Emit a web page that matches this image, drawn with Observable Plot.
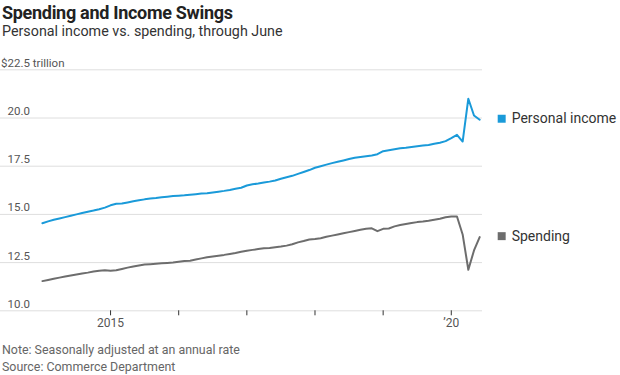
<!DOCTYPE html>
<html><head><meta charset="utf-8">
<script src="https://cdn.jsdelivr.net/npm/d3@7"></script>
<script src="https://cdn.jsdelivr.net/npm/@observablehq/plot@0.6"></script>
<style>
body{margin:0;background:#fff;width:620px;height:375px;overflow:hidden;position:relative;font-family:Roboto,sans-serif;}
.t{position:absolute;left:2px;white-space:nowrap;}
#title{top:2px;font-size:18px;font-weight:700;color:#222;letter-spacing:-0.3px;}
#sub{top:23px;font-size:14.3px;color:#333;}
#note{top:342px;font-size:12.4px;color:#666;}
#src{top:359px;font-size:12.4px;color:#666;}
#chart{position:absolute;left:0;top:50px;}
</style></head>
<body>
<div class="t" id="title">Spending and Income Swings</div>
<div class="t" id="sub">Personal income vs. spending, through June</div>
<div id="chart"></div>
<div class="t" id="note">Note: Seasonally adjusted at an annual rate</div>
<div class="t" id="src">Source: Commerce Department</div>
<script>
const startYear = 2014;
const income = [
14.54,14.64,14.72,14.79,14.86,14.93,15.00,15.07,15.14,15.20,15.27,15.35,
15.47,15.55,15.56,15.62,15.68,15.73,15.78,15.82,15.85,15.89,15.92,15.95,
15.97,15.99,16.02,16.05,16.08,16.10,16.14,16.18,16.22,16.27,16.33,16.38,
16.50,16.56,16.60,16.65,16.70,16.76,16.85,16.93,17.00,17.10,17.20,17.30,
17.42,17.50,17.58,17.66,17.73,17.80,17.87,17.94,17.98,18.02,18.06,18.12,
18.28,18.33,18.38,18.43,18.46,18.50,18.54,18.57,18.60,18.66,18.72,18.80,
18.96,19.13,18.78,21.00,20.13,19.91];
const spending = [
11.54,11.60,11.66,11.72,11.78,11.83,11.88,11.93,11.98,12.04,12.08,12.10,
12.08,12.10,12.17,12.24,12.30,12.35,12.40,12.42,12.44,12.46,12.48,12.50,
12.54,12.58,12.60,12.66,12.72,12.78,12.82,12.86,12.90,12.95,13.00,13.06,
13.12,13.16,13.20,13.24,13.26,13.30,13.33,13.38,13.45,13.55,13.62,13.70,
13.72,13.76,13.84,13.90,13.96,14.02,14.08,14.14,14.20,14.25,14.28,14.13,
14.25,14.27,14.38,14.45,14.50,14.55,14.60,14.63,14.67,14.72,14.77,14.85,
14.89,14.89,13.96,12.13,13.13,13.82];
const seriesNames = ["Personal income", "Spending"];
const seriesColors = ["#1a9ad9", "#6d6d6d"];
const yTicks = [10, 12.5, 15, 17.5, 20, 22.5];
const yTickLabels = ["10.0", "12.5", "15.0", "17.5", "20.0", "22.5 trillion"];
const xTicks = [2015, 2016, 2017, 2018, 2019, 2020];
const xTickLabels = ["2015", "", "", "", "", "\u201920"];

const rows = [];
[income, spending].forEach((arr, s) => arr.forEach((v, i) => rows.push({t: startYear + i / 12, v, s: seriesNames[s]})));
const last = seriesNames.map((n, s) => { const arr = [income, spending][s]; return {t: startYear + (arr.length - 1) / 12, v: arr[arr.length - 1], s: n}; });
const yt = yTicks.map((v, i) => ({v, label: yTickLabels[i]}));

const chart = Plot.plot({
  width: 620, height: 285,
  marginLeft: 0, marginRight: 138, marginTop: 19.3, marginBottom: 24.7,
  x: {type: "linear", domain: [2013.385, 2020.458], axis: null},
  y: {type: "linear", domain: [10, 22.5], axis: null},
  color: {domain: seriesNames, range: seriesColors},
  style: {fontFamily: "Roboto, sans-serif", overflow: "visible"},
  marks: [
    Plot.ruleY(yTicks, {y: d => d, stroke: "#dedede", strokeWidth: 1}),
    Plot.text(yt, {y: "v", text: "label", frameAnchor: "left", dx: 7, dy: -3, lineAnchor: "bottom", textAnchor: "start", fontSize: 11.5, fill: "#555"}),
    Plot.text(yt.filter(d => d.v === 22.5), {y: "v", text: () => "$", frameAnchor: "left", dx: 7, dy: -3, lineAnchor: "bottom", textAnchor: "end", fontSize: 11.5, fill: "#555"}),
    Plot.axisX({ticks: xTicks, tickFormat: d => xTickLabels[xTicks.indexOf(d)], tickSize: 5, tickPadding: 3, fontSize: 12, color: "#555", stroke: "#333", anchor: "bottom", label: null}),
    Plot.line(rows, {x: "t", y: "v", z: "s", stroke: "s", strokeWidth: 2}),
    Plot.dot(last, {x: "t", y: "v", fill: "s", symbol: "square", r: 4.5, dx: 22, dy: -1}),
    Plot.text(last, {x: "t", y: "v", text: "s", dx: 32, dy: -1, textAnchor: "start", fontSize: 14, fill: "#333"})
  ]
});
document.getElementById("chart").appendChild(chart);
</script>
</body></html>
